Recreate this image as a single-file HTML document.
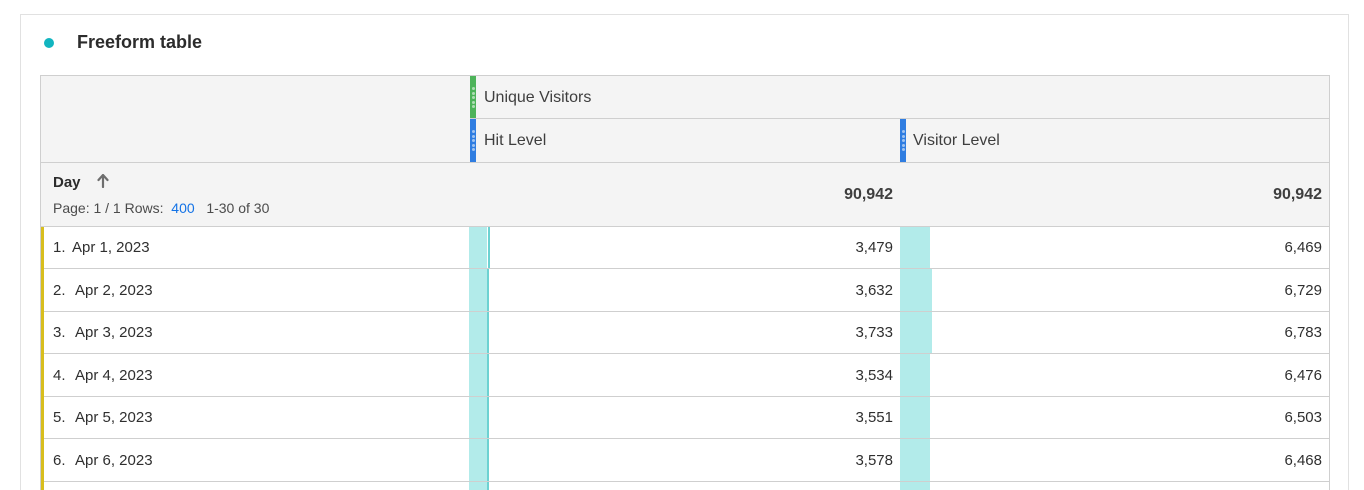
<!DOCTYPE html>
<html style="width:1364px;height:490px;overflow:hidden"><head><meta charset="utf-8"><style>
*{margin:0;padding:0;box-sizing:border-box}
html,body{width:1364px;height:490px;overflow:hidden}
body{background:#fff;font-family:"Liberation Sans",sans-serif;color:#2c2c2c;position:relative}
.wrap{position:absolute;left:0;top:0;width:1364px;height:490px;overflow:hidden}
.abs{position:absolute}
.card{left:20px;top:14px;width:1329px;height:476px;border:1px solid #e1e1e1;border-bottom:none;background:#fff}
.dot{left:44px;top:38px;width:10px;height:10px;border-radius:50%;background:#12b5c0}
.title{left:77px;top:31px;font-size:18px;font-weight:bold;line-height:22px;color:#2c2c2c}
.tbl{left:40px;top:75px;width:1290px;height:415px;border:1px solid #cfcfcf;border-bottom:none;background:#fff}
.hdr{left:41px;top:76px;width:1288px;height:150px;background:#f4f4f4}
.hl{height:1px;background:#cfcfcf}
.t16{font-size:16px;line-height:20px;color:#3e3e3e}
.t15{font-size:15px;line-height:18px;color:#2f2f2f}
.mark{width:6px}
.dots{position:absolute;left:1.5px;width:3px;height:3px;border-radius:50%;background:rgba(255,255,255,.55)}
.num{font-size:15px;line-height:18px;text-align:right;color:#2f2f2f}
.bar{background:#b2ebea}
.dark{background:#6dd2d2}
</style></head><body><div class="wrap">
<div class="abs card"></div>
<div class="abs dot"></div>
<div class="abs title">Freeform table</div>
<div class="abs tbl"></div>
<div class="abs hdr"></div>
<div class="abs hl" style="left:470px;top:118px;width:859px"></div>
<div class="abs hl" style="left:41px;top:162px;width:1288px"></div>
<div class="abs hl" style="left:41px;top:226px;width:1288px"></div>
<div class="abs mark" style="left:470px;top:76px;height:42px;background:#4db35a">
  <div class="dots" style="top:11px"></div><div class="dots" style="top:15.5px"></div><div class="dots" style="top:20px"></div><div class="dots" style="top:24.5px"></div><div class="dots" style="top:29px"></div>
</div>
<div class="abs mark" style="left:470px;top:119px;height:43px;background:#2f7de1">
  <div class="dots" style="top:11px"></div><div class="dots" style="top:15.5px"></div><div class="dots" style="top:20px"></div><div class="dots" style="top:24.5px"></div><div class="dots" style="top:29px"></div>
</div>
<div class="abs mark" style="left:900px;top:119px;height:43px;background:#2f7de1">
  <div class="dots" style="top:11px"></div><div class="dots" style="top:15.5px"></div><div class="dots" style="top:20px"></div><div class="dots" style="top:24.5px"></div><div class="dots" style="top:29px"></div>
</div>
<div class="abs t16" style="left:484px;top:88px">Unique Visitors</div>
<div class="abs t16" style="left:484px;top:131px">Hit Level</div>
<div class="abs t16" style="left:913px;top:131px">Visitor Level</div>
<div class="abs" style="left:53px;top:174px;font-size:15px;font-weight:bold;line-height:18px;color:#2c2c2c">Day</div>
<svg class="abs" style="left:97px;top:174px" width="12" height="14" viewBox="0 0 12 14"><path d="M6 1 L1.5 6 M6 1 L10.5 6 M6 1 L6 13" stroke="#6e6e6e" stroke-width="2.2" fill="none" stroke-linecap="round" stroke-linejoin="round"/></svg>
<div class="abs" style="left:53px;top:200px;font-size:14px;line-height:17px;color:#4b4b4b;white-space:nowrap">Page: 1 / 1 Rows: &nbsp;<span style="color:#1473e6">400</span>&nbsp;&nbsp; 1-30 of 30</div>
<div class="abs" style="left:780px;top:185px;width:113px;text-align:right;font-size:16px;font-weight:bold;line-height:19px;color:#3e3e3e">90,942</div>
<div class="abs" style="left:1200px;top:185px;width:122px;text-align:right;font-size:16px;font-weight:bold;line-height:19px;color:#3e3e3e">90,942</div>
<div class="abs" style="left:41px;top:227px;width:3px;height:263px;background:#d8be1e"></div>
<div class="abs bar" style="left:469px;top:227px;width:18px;height:263px"></div>
<div class="abs dark" style="left:488px;top:227px;width:2px;height:41px"></div>
<div class="abs dark" style="left:487px;top:269px;width:2px;height:221px"></div>
<div class="abs bar" style="left:900px;top:227px;width:30px;height:41px"></div>
<div class="abs bar" style="left:900px;top:269px;width:32px;height:84px"></div>
<div class="abs bar" style="left:900px;top:354px;width:30px;height:136px"></div>
<div class="abs hl" style="left:44px;top:268px;width:1285px"></div>
<div class="abs hl" style="left:44px;top:311px;width:1285px"></div>
<div class="abs hl" style="left:44px;top:353px;width:1285px"></div>
<div class="abs hl" style="left:44px;top:396px;width:1285px"></div>
<div class="abs hl" style="left:44px;top:438px;width:1285px"></div>
<div class="abs hl" style="left:44px;top:481px;width:1285px"></div>
<div class="abs t15" style="left:53px;top:239px">1.</div><div class="abs t15" style="left:72px;top:239px">Apr 1, 2023</div>
<div class="abs t15" style="left:53px;top:282px">2.</div><div class="abs t15" style="left:75px;top:282px">Apr 2, 2023</div>
<div class="abs t15" style="left:53px;top:324px">3.</div><div class="abs t15" style="left:75px;top:324px">Apr 3, 2023</div>
<div class="abs t15" style="left:53px;top:367px">4.</div><div class="abs t15" style="left:75px;top:367px">Apr 4, 2023</div>
<div class="abs t15" style="left:53px;top:409px">5.</div><div class="abs t15" style="left:75px;top:409px">Apr 5, 2023</div>
<div class="abs t15" style="left:53px;top:452px">6.</div><div class="abs t15" style="left:75px;top:452px">Apr 6, 2023</div>
<div class="abs num" style="left:780px;top:239px;width:113px">3,479</div>
<div class="abs num" style="left:780px;top:282px;width:113px">3,632</div>
<div class="abs num" style="left:780px;top:324px;width:113px">3,733</div>
<div class="abs num" style="left:780px;top:367px;width:113px">3,534</div>
<div class="abs num" style="left:780px;top:409px;width:113px">3,551</div>
<div class="abs num" style="left:780px;top:452px;width:113px">3,578</div>
<div class="abs num" style="left:1200px;top:239px;width:122px">6,469</div>
<div class="abs num" style="left:1200px;top:282px;width:122px">6,729</div>
<div class="abs num" style="left:1200px;top:324px;width:122px">6,783</div>
<div class="abs num" style="left:1200px;top:367px;width:122px">6,476</div>
<div class="abs num" style="left:1200px;top:409px;width:122px">6,503</div>
<div class="abs num" style="left:1200px;top:452px;width:122px">6,468</div>
</div></body></html>
